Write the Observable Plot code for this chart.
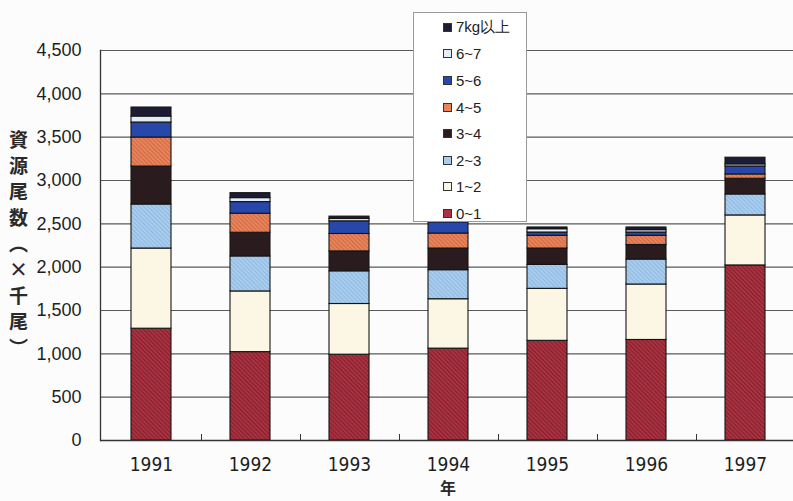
<!DOCTYPE html>
<html>
<head>
<meta charset="utf-8">
<script src="https://cdn.jsdelivr.net/npm/d3@7"></script>
<script src="https://cdn.jsdelivr.net/npm/@observablehq/plot@0.6"></script>
<style>
  body { margin: 0; background: #fcfcfc; }
  #wrap { position: relative; width: 793px; height: 501px; overflow: hidden; }
  #ylabel {
    position: absolute; left: 9px; top: 130px;
    writing-mode: vertical-rl;
    font-family: "Noto Sans CJK JP", sans-serif; font-weight: 700;
    font-size: 19px; letter-spacing: 7px; color: #2a2a2a; line-height: 1;
  }
  #xlabel {
    position: absolute; left: 438px; top: 478px; width: 20px; text-align: center;
    font-family: "Noto Sans CJK JP", sans-serif; font-weight: 700;
    font-size: 16px; color: #2a2a2a; line-height: 18px;
  }
  #legend {
    position: absolute; left: 413px; top: 12px; width: 114px; height: 210px;
    background: #fff; border: 1px solid #9a9a9a; box-sizing: border-box;
    padding-top: 1px;
  }
  .row { height: 26.6px; display: flex; align-items: center; padding-left: 29px;
    font-family: "Liberation Sans", Arial, sans-serif; font-size: 15px; color: #222; }
  .sw { width: 7px; height: 7px; border: 1px solid #333; margin-right: 4px; }
</style>
</head>
<body>
<svg width="0" height="0" style="position:absolute">
  <defs id="hatches"></defs>
</svg>
<div id="wrap">
  <div id="chart"></div>
  <div id="ylabel">資源尾数（×千尾）</div>
  <div id="xlabel">年</div>
  <div id="legend"></div>
</div>
<script>
// Resource numbers by body-weight class (thousand fish), stacked per year
const years = ["1991", "1992", "1993", "1994", "1995", "1996", "1997"];
const classes = ["0~1", "1~2", "2~3", "3~4", "4~5", "5~6", "6~7", "7kg以上"];
const colors = ["#a83240", "#fbf7e4", "#a9cdec", "#2a1c1e", "#e8845c", "#2747aa", "#e4ecf7", "#1c1d34"];
// stripe colour for the hatched classes (null = plain fill)
const stripes = ["#84202e", null, "#8fb8e2", null, "#cf6a44", null, null, null];

const w0_1 = [1290, 1020, 990, 1060, 1150, 1160, 2020];
const w1_2 = [925, 700, 585, 570, 600, 640, 577];
const w2_3 = [508, 404, 377, 335, 277, 288, 242];
const w3_4 = [438, 273, 230, 250, 188, 168, 181];
const w4_5 = [335, 220, 201, 173, 147, 106, 50];
const w5_6 = [173, 134, 146, 130, 38, 38, 92];
const w6_7 = [69, 46, 27, 35, 38, 27, 24];
const w7up = [104, 57, 27, 40, 20, 31, 77];

const yTicks = [0, 500, 1000, 1500, 2000, 2500, 3000, 3500, 4000, 4500];

const series = [w0_1, w1_2, w2_3, w3_4, w4_5, w5_6, w6_7, w7up];
const rows = [];
classes.forEach((c, i) => years.forEach((yr, j) => rows.push({year: yr, cls: c, value: series[i][j]})));

// diagonal hatch patterns
const defs = d3.select("#hatches");
const fills = colors.map((col, i) => {
  if (!stripes[i]) return col;
  const p = defs.append("pattern").attr("id", "hatch" + i)
    .attr("patternUnits", "userSpaceOnUse").attr("width", 3).attr("height", 3)
    .attr("patternTransform", "rotate(-45)");
  p.append("rect").attr("width", 3).attr("height", 3).attr("fill", col);
  p.append("rect").attr("width", 1).attr("height", 3).attr("fill", stripes[i]);
  return `url(#hatch${i})`;
});

const marginTop = 50, marginBottom = 61, height = 501;
const frameH = height - marginTop - marginBottom;

const chart = Plot.plot({
  width: 793,
  height,
  marginLeft: 100,
  marginRight: -3,
  marginTop,
  marginBottom,
  style: {background: "transparent", overflow: "visible"},
  x: {domain: years, paddingInner: 0.6, paddingOuter: 0.285, axis: null},
  y: {domain: [0, 4500], axis: null},
  color: {domain: classes, range: fills},
  marks: [
    Plot.gridY(yTicks, {stroke: "#5a5a5a", strokeOpacity: 1, strokeWidth: 1.1}),
    Plot.barY(rows, {x: "year", y: "value", fill: "cls", stroke: "#141414", strokeWidth: 1.1, order: classes}),
    // small ticks between the year bands along the bottom axis
    Plot.ruleX(years.slice(0, -1), {x: d => d, dx: 50, insetTop: frameH - 6, stroke: "#333"}),
    Plot.ruleY([0], {stroke: "#333", strokeWidth: 1.3}),
    Plot.frame({anchor: "left", stroke: "#333", strokeWidth: 1.3}),
    Plot.axisY(yTicks, {tickSize: 0, tickPadding: 19, tickFormat: d3.format(","), fontSize: 18,
      fontFamily: "Liberation Sans, Arial, sans-serif", fill: "#1e1e1e", label: null}),
    Plot.axisX({tickSize: 0, tickPadding: 17, fontSize: 19,
      fontFamily: "Liberation Sans Narrow, DejaVu Sans Condensed, sans-serif", fill: "#1e1e1e", label: null})
  ]
});
document.getElementById("chart").append(chart);

// legend: heaviest class first
const legend = d3.select("#legend");
classes.map((c, i) => ({c, col: colors[i]})).reverse().forEach(({c, col}) => {
  const r = legend.append("div").attr("class", "row");
  r.append("div").attr("class", "sw").style("background", col);
  r.append("span").text(c);
});
</script>
</body>
</html>
